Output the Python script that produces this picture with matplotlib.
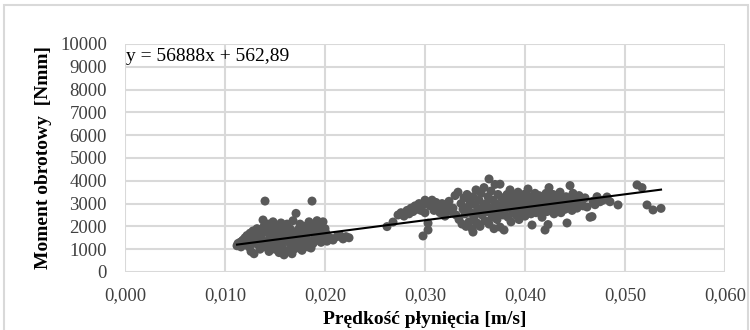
import numpy as np
import matplotlib
matplotlib.use("Agg")
import matplotlib.pyplot as plt
from matplotlib.patches import Rectangle
from matplotlib.ticker import FuncFormatter

# flow speed [m/s] and torque [Nmm]
speed_low = [0.0112, 0.0113, 0.0115, 0.0116, 0.0118, 0.0119, 0.0120, 0.0117,
             0.0121, 0.0122, 0.0123, 0.0124, 0.0125, 0.0126, 0.0127, 0.0128, 0.0129, 0.0130, 0.0126, 0.0128,
             0.0131, 0.0132, 0.0133, 0.0134, 0.0135, 0.0136, 0.0137, 0.0138, 0.0139, 0.0140, 0.0138, 0.0140, 0.0133,
             0.0141, 0.0142, 0.0143, 0.0144, 0.0145, 0.0146, 0.0147, 0.0148, 0.0149, 0.0150, 0.0144, 0.0147,
             0.0151, 0.0152, 0.0153, 0.0154, 0.0155, 0.0156, 0.0157, 0.0158, 0.0159, 0.0160, 0.0155, 0.0158,
             0.0161, 0.0162, 0.0163, 0.0164, 0.0165, 0.0166, 0.0167, 0.0168, 0.0169, 0.0170, 0.0171, 0.0163, 0.0167,
             0.0172, 0.0173, 0.0174, 0.0175, 0.0176, 0.0177, 0.0178, 0.0179, 0.0180, 0.0174,
             0.0181, 0.0182, 0.0183, 0.0184, 0.0185, 0.0186, 0.0187, 0.0188, 0.0189, 0.0190, 0.0186,
             0.0191, 0.0192, 0.0193, 0.0194, 0.0195, 0.0196, 0.0197, 0.0198, 0.0199, 0.0200, 0.0201, 0.0202,
             0.0205, 0.0208, 0.0212, 0.0215, 0.0218, 0.0221, 0.0224]
torque_low = [1150, 1250, 1300, 1100, 1400, 1200, 1500, 1350,
              1300, 1600, 1450, 1100, 1700, 900, 1550, 1250, 800, 1650, 1400, 1800,
              1400, 1900, 1200, 1700, 1000, 1550, 1850, 1300, 2000, 1100, 2280, 3110, 1600,
              1750, 1350, 2100, 900, 1600, 1900, 1200, 2200, 1450, 1000, 1250, 1750,
              1700, 2000, 1300, 850, 1550, 2150, 1100, 1800, 750, 1400, 1950, 1000,
              1650, 2100, 900, 1300, 1900, 1150, 1700, 2250, 1000, 1500, 2570, 1500, 800,
              1250, 1850, 1050, 2100, 1450, 950, 1700, 2000, 1200, 1600,
              1550, 1900, 1100, 2200, 1350, 1750, 3110, 1250, 2050, 1500, 1050,
              1750, 2250, 1400, 1900, 2100, 1300, 1650, 2200, 1550, 1900, 1700, 1350,
              1500, 1400, 1550, 1600, 1450, 1550, 1500]

speed_high = [0.0262, 0.0268, 0.0273, 0.0276, 0.0279, 0.0282, 0.0284, 0.0286, 0.0288, 0.0290, 0.0292, 0.0294,
              0.0296, 0.0298, 0.0298, 0.0300, 0.0300,
              0.0303, 0.0303, 0.0305, 0.0307, 0.0309, 0.0311, 0.0313, 0.0315, 0.0317, 0.0319, 0.0320,
              0.0322, 0.0324, 0.0326, 0.0328, 0.0330, 0.0331, 0.0333, 0.0334, 0.0336, 0.0337, 0.0338, 0.0339, 0.0340,
              0.0341, 0.0342, 0.0343, 0.0344, 0.0345, 0.0346, 0.0347, 0.0348, 0.0348, 0.0349, 0.0350, 0.0351,
              0.0352, 0.0353, 0.0354, 0.0355, 0.0356, 0.0357, 0.0358, 0.0359, 0.0360,
              0.0361, 0.0362, 0.0363, 0.0364, 0.0364, 0.0365, 0.0366, 0.0367, 0.0368, 0.0369, 0.0370, 0.0370,
              0.0371, 0.0372, 0.0373, 0.0374, 0.0375, 0.0375, 0.0376, 0.0377, 0.0378, 0.0379, 0.0380,
              0.0381, 0.0382, 0.0383, 0.0384, 0.0385, 0.0386, 0.0387, 0.0388, 0.0389, 0.0390, 0.0391, 0.0392,
              0.0393, 0.0394, 0.0395, 0.0396, 0.0397, 0.0398, 0.0399, 0.0400,
              0.0401, 0.0402, 0.0403, 0.0404, 0.0405, 0.0406, 0.0407, 0.0408, 0.0409, 0.0410, 0.0411, 0.0412,
              0.0413, 0.0414, 0.0415, 0.0416, 0.0417, 0.0418, 0.0419, 0.0420, 0.0420,
              0.0421, 0.0422, 0.0423, 0.0424, 0.0425, 0.0426, 0.0427, 0.0428, 0.0429, 0.0430, 0.0431, 0.0432,
              0.0433, 0.0434, 0.0435, 0.0436, 0.0437, 0.0438, 0.0439, 0.0440,
              0.0441, 0.0442, 0.0443, 0.0444, 0.0445, 0.0446, 0.0447, 0.0448, 0.0449, 0.0450, 0.0452, 0.0454,
              0.0456, 0.0458, 0.0460, 0.0462, 0.0465, 0.0467, 0.0468, 0.0470, 0.0472, 0.0475, 0.0478, 0.0482,
              0.0485, 0.0493, 0.0512, 0.0517, 0.0522, 0.0528, 0.0536]
torque_high = [1990, 2190, 2500, 2600, 2450, 2700, 2550, 2800, 2650, 2900, 2750, 3000,
               2700, 1580, 2950, 3150, 2600,
               2140, 1840, 2900, 3150, 2700, 3050, 2850, 2600, 3000, 2750, 2450,
               2900, 3100, 2650, 2800, 3350, 2500, 3500, 2300, 3000, 2100, 2750, 3250, 2550,
               2000, 3400, 2850, 2200, 3100, 2600, 1900, 1750, 3300, 2400, 2950, 3600,
               2150, 2700, 3150, 2000, 3450, 2500, 2850, 3700, 2250,
               3000, 2650, 3300, 4080, 2100, 2800, 3550, 2400, 3150, 1900, 3840, 2700,
               3000, 2300, 3400, 2600, 3850, 1970, 2900, 3250, 2500, 1840, 3100,
               2750, 3400, 2400, 2950, 3600, 2200, 3150, 2650, 3350, 2850, 2500, 3050,
               3500, 2300, 2750, 3200, 2600, 2950, 3400, 2450,
               3100, 2700, 3640, 2900, 3300, 2550, 2060, 3000, 2800, 3450, 2600, 3150,
               2900, 3350, 2700, 3050, 2400, 3250, 2850, 1840, 3000,
               3450, 2650, 2080, 3700, 2950, 3200, 2750, 3400, 2550, 3100, 2850, 3350,
               2700, 3000, 3500, 2600, 3250, 2900, 3150, 2750,
               3300, 2150, 3050, 2850, 3790, 3200, 2700, 3450, 2950, 3150, 2800, 3350,
               3050, 2900, 3250, 2850, 2400, 2430, 3100, 2950, 3300, 3080, 3150, 3290,
               3080, 2940, 3820, 3700, 2940, 2720, 2790]

slope = 56888
intercept = 562.89

x_ticks = [0.0, 0.01, 0.02, 0.03, 0.04, 0.05, 0.06]
y_ticks = list(range(0, 10001, 1000))

plt.rcParams['font.family'] = ['Liberation Serif', 'DejaVu Serif']

speed = np.array(speed_low + speed_high)
torque = np.array(torque_low + torque_high)

fig = plt.figure(figsize=(7.5, 3.3), dpi=100)
ax = fig.add_axes([0.1667, 0.1758, 0.8, 0.691])

ax.scatter(speed, torque, s=42, color='#595959', edgecolors='none', zorder=3)

# linear trend line over the data range
xl = np.array([speed.min(), speed.max()])
ax.plot(xl, slope * xl + intercept, color='black', lw=1.5, zorder=4)

ax.set_xlim(0, 0.06)
ax.set_ylim(0, 10000)
ax.set_xticks(x_ticks)
ax.set_yticks(y_ticks)
ax.xaxis.set_major_formatter(FuncFormatter(lambda v, p: f"{v:.3f}".replace('.', ',')))
ax.grid(True, color='#d9d9d9', lw=1.5, zorder=0)
for s in ax.spines.values():
    s.set_visible(False)
ax.tick_params(length=0, labelsize=13.5, colors='#404040')
ax.tick_params(axis='x', pad=11)
ax.tick_params(axis='y', pad=13)

ax.set_xlabel('Prędkość płynięcia [m/s]', fontsize=14, fontweight='bold', labelpad=5)
ax.set_ylabel('Moment obrotowy  [Nmm]', fontsize=14, fontweight='bold', labelpad=6)

ax.text(0.0001, 9430, 'y = 56888x + 562,89', fontsize=14, va='center', ha='left', zorder=5)

fig.patches.append(Rectangle((4 / 750, -0.05), 744 / 750, 1.05 - 5 / 330,
                             transform=fig.transFigure, fill=False,
                             edgecolor='#d9d9d9', lw=1.5))

fig.savefig('out.png', dpi=100)
